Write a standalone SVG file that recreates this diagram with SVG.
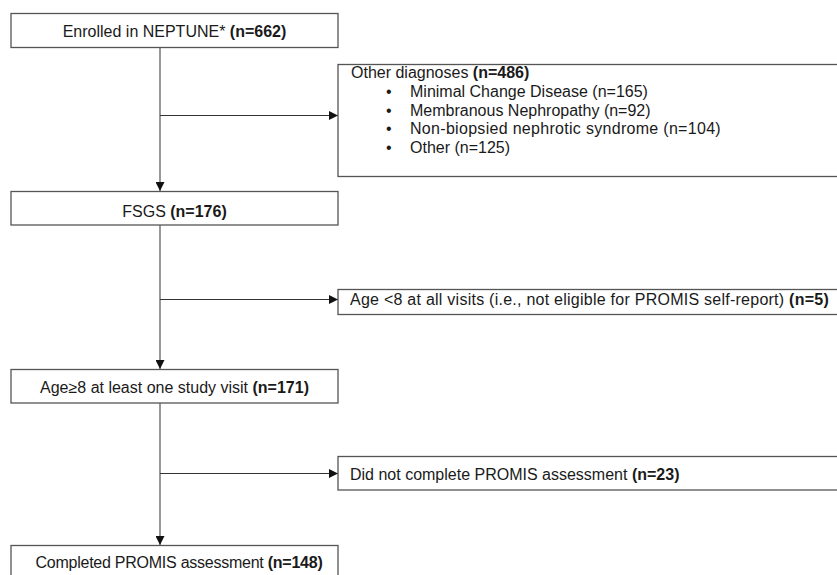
<svg xmlns="http://www.w3.org/2000/svg" width="837" height="575" viewBox="0 0 837 575">
<defs>
<style>
.box{fill:#fff;stroke:#555;stroke-width:1.3}
.t{font-family:"Liberation Sans",Arial,sans-serif;font-size:16px;fill:#1a1a1a}
.b{font-weight:bold}
.v{stroke:#7f7f7f;stroke-width:1.6;fill:none}
.h{stroke:#333;stroke-width:1;fill:none}
</style>
<marker id="ah" viewBox="0 0 10 10" refX="10" refY="5" markerWidth="10" markerHeight="9" markerUnits="userSpaceOnUse" orient="auto">
<path d="M0,0 L10,5 L0,10 Z" fill="#111"/>
</marker>
</defs>
<rect width="837" height="575" fill="#fff"/>
<g id="connectors">
<line class="v" x1="160" y1="48" x2="160" y2="191" marker-end="url(#ah)"/>
<line class="h" x1="160" y1="115.5" x2="338" y2="115.5" marker-end="url(#ah)"/>
<line class="v" x1="160" y1="225" x2="160" y2="369" marker-end="url(#ah)"/>
<line class="h" x1="160" y1="299.5" x2="338" y2="299.5" marker-end="url(#ah)"/>
<line class="v" x1="160" y1="403" x2="160" y2="545" marker-end="url(#ah)"/>
<line class="h" x1="160" y1="473.5" x2="338" y2="473.5" marker-end="url(#ah)"/>
</g>
<g id="enrolled">
<rect class="box" x="11" y="13.5" width="327" height="34"/>
<text class="t" x="174.5" y="37" text-anchor="middle">Enrolled in NEPTUNE* <tspan class="b">(n=662)</tspan></text>
</g>
<g id="other">
<rect class="box" x="338" y="64.5" width="510" height="112"/>
<text class="t" x="351" y="78">Other diagnoses <tspan class="b">(n=486)</tspan></text>
<text class="t" x="386" y="97">•</text>
<text class="t" x="410" y="97">Minimal Change Disease (n=165)</text>
<text class="t" x="386" y="115.5">•</text>
<text class="t" x="410" y="115.5">Membranous Nephropathy (n=92)</text>
<text class="t" x="386" y="134">•</text>
<text class="t" x="410" y="134" letter-spacing="0.3">Non-biopsied nephrotic syndrome (n=104)</text>
<text class="t" x="386" y="152.5">•</text>
<text class="t" x="410" y="152.5">Other (n=125)</text>
</g>
<g id="fsgs">
<rect class="box" x="11" y="191.5" width="327" height="33.5"/>
<text class="t" x="174.5" y="217" text-anchor="middle">FSGS <tspan class="b">(n=176)</tspan></text>
</g>
<g id="age-lt8">
<rect class="box" x="338" y="289.5" width="510" height="25"/>
<text class="t" x="350" y="305" letter-spacing="0.25">Age &lt;8 at all visits (i.e., not eligible for PROMIS self-report) <tspan class="b">(n=5)</tspan></text>
</g>
<g id="age-ge8">
<rect class="box" x="11" y="369.5" width="327" height="33.5"/>
<text class="t" x="174.5" y="393" text-anchor="middle">Age≥8 at least one study visit <tspan class="b">(n=171)</tspan></text>
</g>
<g id="not-completed">
<rect class="box" x="338" y="456.5" width="510" height="33.5"/>
<text class="t" x="350" y="480">Did not complete PROMIS assessment <tspan class="b">(n=23)</tspan></text>
</g>
<g id="completed">
<rect class="box" x="11" y="545.5" width="327" height="40"/>
<text class="t" x="179" y="568" text-anchor="middle" letter-spacing="-0.25">Completed PROMIS assessment <tspan class="b">(n=148)</tspan></text>
</g>
</svg>
